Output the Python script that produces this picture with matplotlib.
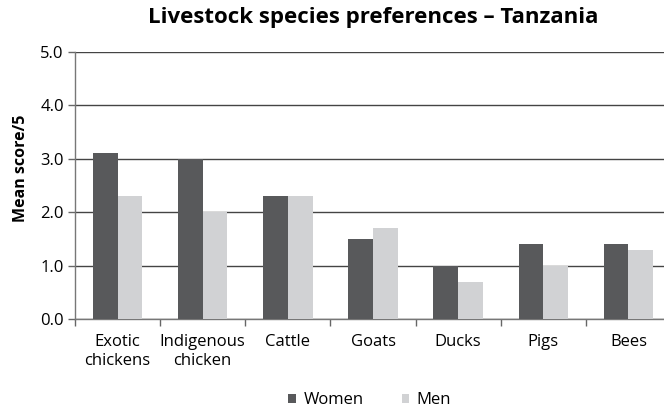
import matplotlib
matplotlib.use("Agg")
import matplotlib.pyplot as plt
import numpy as np

categories = ["Exotic\nchickens", "Indigenous\nchicken", "Cattle", "Goats", "Ducks", "Pigs", "Bees"]
women = [3.1, 3.0, 2.3, 1.5, 1.0, 1.4, 1.4]
men = [2.3, 2.0, 2.3, 1.7, 0.7, 1.0, 1.3]
y_ticks = [0.0, 1.0, 2.0, 3.0, 4.0, 5.0]

plt.rcParams['font.family'] = ['Open Sans', 'DejaVu Sans']

fig = plt.figure(figsize=(6.64, 4.09), dpi=100)
ax = fig.add_axes([0.113, 0.22, 0.8976, 0.6528])

x = np.arange(len(categories))
w = 0.29
ax.bar(x - w / 2, women, w, color="#58595b", label="Women", zorder=3)
ax.bar(x + w / 2, men, w, color="#d1d2d4", label="Men", zorder=3)

ax.set_xlim(-0.5, len(categories) - 0.5)
ax.set_ylim(0, 5)
ax.set_yticks(y_ticks)
ax.set_yticklabels([f"{v:.1f}" for v in y_ticks], fontsize=12)
ax.yaxis.grid(True, color="#444444", linewidth=1.0, zorder=0)
ax.set_axisbelow(True)

ax.set_xticks(x)
ax.set_xticklabels(categories, fontsize=12, linespacing=1.25)
ax.tick_params(axis="x", length=0, pad=11)
ax.set_xticks(np.arange(len(categories) + 1) - 0.5, minor=True)
ax.tick_params(axis="x", which="minor", length=5, color="#666666", width=1)
ax.tick_params(axis="y", length=5, color="#666666", width=1, pad=3)

for s in ["top", "right"]:
    ax.spines[s].set_visible(False)
for s in ["left", "bottom"]:
    ax.spines[s].set_color("#777777")
    ax.spines[s].set_linewidth(1.0)

ax.set_ylabel("Mean score/5", fontsize=11.5, fontweight="bold")
ax.yaxis.set_label_coords(-0.077, 0.566)

fig.text(0.562, 0.958, "Livestock species preferences – Tanzania", ha="center", va="center",
         fontsize=16, fontweight="bold")

fig.legend(loc="center", bbox_to_anchor=(0.557, 0.022), ncol=2, frameon=False, fontsize=12,
           handlelength=0.45, handleheight=0.45, columnspacing=2.3, handletextpad=0.45)

fig.savefig("out.png", dpi=100)
